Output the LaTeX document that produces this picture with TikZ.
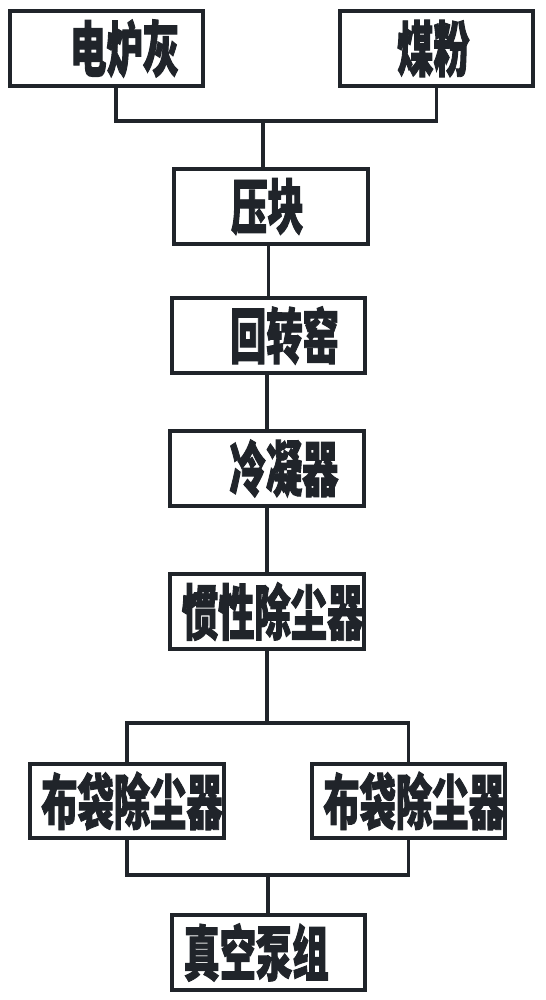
\documentclass[tikz,border=0pt]{standalone}
\usepackage{fontspec}
\usepackage{tikz}
\usetikzlibrary{calc}
\newfontfamily\cjk{Noto Sans CJK SC}[FakeStretch=0.6,FakeBold=1.5]
\definecolor{ink}{RGB}{32,36,42}

\begin{document}
\begin{tikzpicture}[scale=0.25]
\tikzset{box/.style={draw=ink,line width=2.8pt,minimum width=4.83cm,minimum height=1.87cm,inner sep=0pt,outer sep=0pt},
  txt/.style={font=\cjk\bfseries\fontsize{43}{43}\selectfont,text=ink,inner sep=0pt},
  wire/.style={draw=ink,line width=2.2pt}}
\useasboundingbox (0,0) rectangle (54.5,-100);
% boxes
\node [box,label={[txt,xshift=4.5mm]center:电炉灰}] (dlh) at (10.65,-4.85) {};
\node [box,label={[txt,xshift=-0.75mm]center:煤粉}] (mf) at (43.65,-4.85) {};
\node [box,label={[txt,xshift=-0.9mm]center:压块}] (yk) at (27.1,-20.65) {};
\node [box,label={[txt,xshift=4mm]center:回转窑}] (hzy) at (26.85,-33.55) {};
\node [box,label={[txt,xshift=4.25mm]center:冷凝器}] (lnq) at (26.7,-46.85) {};
\node [box,label={[txt,xshift=1.4mm]center:惯性除尘器}] (gx) at (26.7,-61.15) {};
\node [box,label={[txt,xshift=1.25mm]center:布袋除尘器}] (bdl) at (12.7,-80.1) {};
\node [box,label={[txt,xshift=1.4mm]center:布袋除尘器}] (bdr) at (40.85,-80.1) {};
\node [box,label={[txt,xshift=-3.1mm]center:真空泵组}] (zk) at (26.85,-95.25) {};
% junctions
\coordinate (j1) at (26.3,-12.1);
\coordinate (j2) at (26.7,-72.3);
\coordinate (j3) at (26.8,-87.5);
% connectors
\draw [wire] ($(dlh.south)+(0.95,0)$) |- (j1) -| (mf.south);
\draw [wire] (j1) -- (j1 |- yk.north);
\draw [wire] (yk.south -| hzy.north) -- (hzy.north);
\draw [wire] (hzy.south -| lnq.north) -- (lnq.north);
\draw [wire] (lnq.south) -- (gx.north);
\draw [wire] (gx.south) -- (j2);
\draw [wire] (bdl.north) |- (j2) -| (bdr.north);
\draw [wire] (bdl.south) |- (j3) -| (bdr.south);
\draw [wire] (j3) -- (j3 |- zk.north);
\end{tikzpicture}
\end{document}
